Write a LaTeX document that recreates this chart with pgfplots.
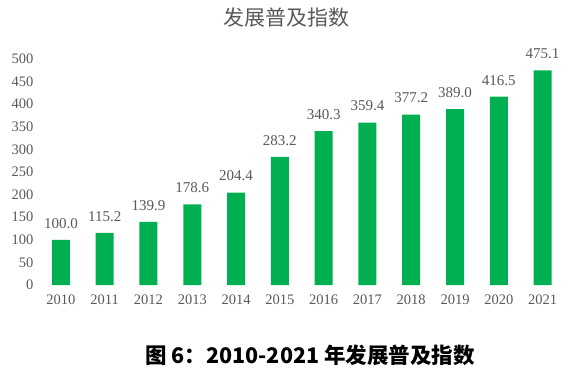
\documentclass[border=0pt]{standalone}
\usepackage{fontspec}
\setmainfont{Liberation Serif}
\newfontfamily\cjk{Noto Sans CJK SC}
\usepackage{pgfplots}
\pgfplotsset{compat=1.18}
\definecolor{bargreen}{HTML}{00B050}
\definecolor{txtgray}{HTML}{595959}
\begin{document}
\begin{tikzpicture}[x=1pt,y=1pt]
\begin{axis}[
  at={(0,0)}, anchor=south west,
  scale only axis, width=525.5pt, height=226pt,
  xmin=-0.5, xmax=11.5, ymin=0, ymax=500,
  ybar, bar width=18pt,
  axis line style={draw=none},
  major tick length=0pt,
  xtick={0,...,11},
  xticklabels={2010,2011,2012,2013,2014,2015,2016,2017,2018,2019,2020,2021},
  ytick={0,50,...,500},
  tick label style={font=\fontsize{14.5}{16}\selectfont, text=txtgray},
  /pgf/number format/assume math mode=true,
  xticklabel style={yshift=-6pt},
  yticklabel style={xshift=-2pt, /pgf/number format/.cd, fixed, precision=0},
  nodes near coords,
  every node near coord/.append style={yshift=8pt},
  nodes near coords style={font=\fontsize{15}{17}\selectfont, text=txtgray, /pgf/number format/.cd, fixed, fixed zerofill, precision=1, assume math mode=true},
  clip=false,
]
\addplot[fill=bargreen, draw=none] coordinates {
(0,100.0) (1,115.2) (2,139.9) (3,178.6) (4,204.4) (5,283.2)
(6,340.3) (7,359.4) (8,377.2) (9,389.0) (10,416.5) (11,475.1)};
\end{axis}
\path (-39pt,-88pt) rectangle ++(572pt,373pt);
\node[font=\cjk\fontsize{21}{23}\selectfont, text=txtgray] at (247pt,267pt) {发展普及指数};
\node[font=\cjk\bfseries\fontsize{21.5}{24}\selectfont, text=black] at (271pt,-70pt) {图 6：2010-2021 年发展普及指数};
\end{tikzpicture}
\end{document}
